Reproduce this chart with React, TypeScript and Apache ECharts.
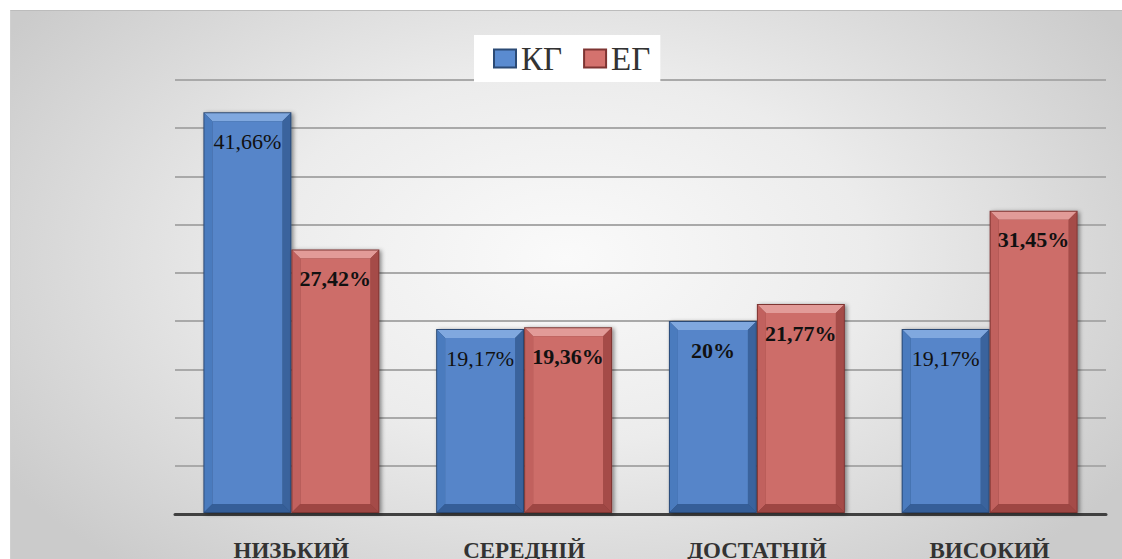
import React, { useEffect, useRef } from "react";
import * as echarts from "echarts";

const categories = ["НИЗЬКИЙ", "СЕРЕДНІЙ", "ДОСТАТНІЙ", "ВИСОКИЙ"];
const seriesNames = ["КГ", "ЕГ"];
const kgValues = [41.66, 19.17, 20, 19.17];
const egValues = [27.42, 19.36, 21.77, 31.45];
const yMin = 0;
const yMax = 45;
const yInterval = 5;

const kgLabelWeights = ["normal", "normal", "bold", "normal"];
const egLabelWeights = ["bold", "bold", "bold", "bold"];

const SERIF = "'Liberation Serif', 'Times New Roman', 'DejaVu Serif', serif";

type Palette = {
  face: string;
  top: string;
  left: string;
  right: string;
  bottom: string;
  border: string;
};

const bluePal: Palette = {
  face: "#5a8bd0",
  top: "#86aee6",
  left: "#4d7ec2",
  right: "#3b659f",
  bottom: "#36609a",
  border: "#2b4a75",
};
const redPal: Palette = {
  face: "#d4726e",
  top: "#e9a19e",
  left: "#c66461",
  right: "#a84c49",
  bottom: "#a04744",
  border: "#7e3432",
};

function fmt(v: number) {
  return String(v).replace(".", ",") + "%";
}

function makeRender(seriesIdx: number, pal: Palette, weights: string[]) {
  return (params: any, api: any) => {
    const cat = api.value(0);
    const val = api.value(1);
    const base = api.coord([cat, 0]);
    const topPt = api.coord([cat, val]);
    const bandW = api.size([1, 0])[0];
    const w = bandW * 0.378;
    const x0 = seriesIdx === 0 ? base[0] - w : base[0];
    const y0 = topPt[1];
    const y1 = base[1] - 1;
    const h = y1 - y0;
    const x1 = x0 + w;
    const b = 9;
    const op = 0.94;
    return {
      type: "group",
      children: [
        {
          type: "rect",
          shape: { x: x0, y: y0, width: w, height: h },
          style: {
            fill: pal.border,
            shadowColor: "rgba(0,0,0,0.45)",
            shadowBlur: 4,
            shadowOffsetX: 2,
            shadowOffsetY: 1,
          },
        },
        {
          type: "polygon",
          shape: { points: [[x0 + 1, y0 + 1], [x1 - 1, y0 + 1], [x1 - b, y0 + b], [x0 + b, y0 + b]] },
          style: { fill: pal.top, opacity: op },
        },
        {
          type: "polygon",
          shape: { points: [[x0 + 1, y0 + 1], [x0 + b, y0 + b], [x0 + b, y1 - b], [x0 + 1, y1 - 1]] },
          style: { fill: pal.left, opacity: op },
        },
        {
          type: "polygon",
          shape: { points: [[x1 - 1, y0 + 1], [x1 - 1, y1 - 1], [x1 - b, y1 - b], [x1 - b, y0 + b]] },
          style: { fill: pal.right, opacity: op },
        },
        {
          type: "polygon",
          shape: { points: [[x0 + 1, y1 - 1], [x0 + b, y1 - b], [x1 - b, y1 - b], [x1 - 1, y1 - 1]] },
          style: { fill: pal.bottom, opacity: op },
        },
        {
          type: "rect",
          shape: { x: x0 + b, y: y0 + b, width: w - 2 * b, height: h - 2 * b },
          style: { fill: pal.face, opacity: 0.92 },
        },
        {
          type: "text",
          style: {
            text: fmt(val),
            x: x0 + w / 2,
            y: y0 + 29,
            align: "center",
            verticalAlign: "middle",
            fontSize: 22,
            fontFamily: SERIF,
            fontWeight: weights[params.dataIndex] as any,
            fill: "#111111",
          },
        },
      ],
    };
  };
}

export default function App() {
  const ref = useRef<HTMLDivElement>(null);

  useEffect(() => {
    if (!ref.current) return;
    const chart = echarts.init(ref.current, null, { renderer: "svg" });
    const option: any = {
      animation: false,
      backgroundColor: "transparent",
      legend: {
        data: seriesNames,
        left: 474,
        top: 35,
        backgroundColor: "#ffffff",
        padding: [7, 10, 7, 19],
        itemWidth: 22,
        itemHeight: 18,
        itemGap: 21,
        icon: "rect",
        textStyle: {
          fontFamily: SERIF,
          fontSize: 33,
          color: "#333333",
        },
      },
      grid: { left: 175, right: 16, top: 80, bottom: 45, outerBoundsMode: "none", containLabel: false },
      xAxis: {
        type: "category",
        data: categories,
        axisLine: { show: true, lineStyle: { color: "#404040", width: 3 } },
        axisTick: { show: false },
        axisLabel: {
          fontFamily: SERIF,
          fontWeight: "bold",
          fontSize: 23,
          color: "#333333",
          margin: 25,
        },
      },
      yAxis: {
        type: "value",
        min: yMin,
        max: yMax,
        interval: yInterval,
        axisLine: { show: false },
        axisTick: { show: false },
        axisLabel: { show: false },
        splitLine: { lineStyle: { color: "#a9a9a9", width: 2 } },
      },
      series: [
        {
          name: seriesNames[0],
          type: "custom",
          itemStyle: { color: bluePal.face, borderColor: bluePal.border, borderWidth: 1 },
          encode: { x: 0, y: 1 },
          data: kgValues.map((v, i) => [i, v]),
          renderItem: makeRender(0, bluePal, kgLabelWeights),
        },
        {
          name: seriesNames[1],
          type: "custom",
          itemStyle: { color: redPal.face, borderColor: redPal.border, borderWidth: 1 },
          encode: { x: 0, y: 1 },
          data: egValues.map((v, i) => [i, v]),
          renderItem: makeRender(1, redPal, egLabelWeights),
        },
      ],
    };
    chart.setOption(option);
    return () => chart.dispose();
  }, []);

  return (
    <div
      style={{
        position: "absolute",
        left: 0,
        top: 0,
        width: 1122,
        height: 559,
        background: "#ffffff",
        overflow: "hidden",
      }}
    >
      <div
        style={{
          position: "absolute",
          left: 10,
          top: 10,
          width: 1112,
          height: 549,
          borderTop: "1px solid #bcbcbc",
          borderLeft: "1px solid #d0d0d0",
          boxSizing: "border-box",
          background:
            "radial-gradient(ellipse 60% 75% at 50% 45%, #fafafa 0%, #ececec 45%, #cbcbcb 100%)",
        }}
      />
      <div ref={ref} style={{ position: "absolute", left: 0, top: 0, width: 1122, height: 559 }} />
    </div>
  );
}
